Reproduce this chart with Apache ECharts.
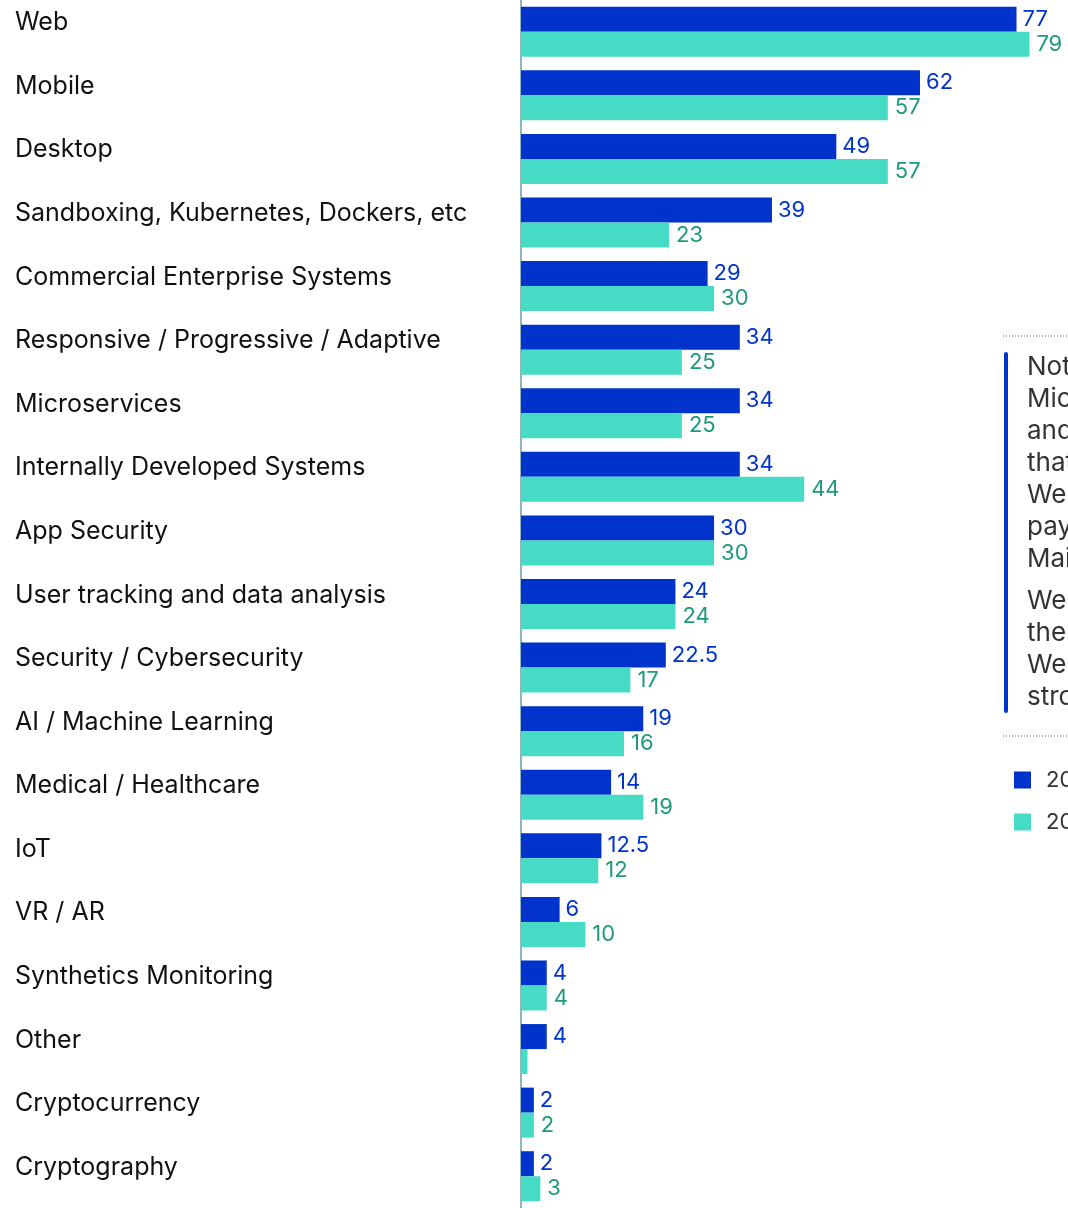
<!DOCTYPE html>
<html lang="en">
  <head>
    <meta charset="UTF-8" />
    <title>Chart</title>
    <script src="https://cdn.jsdelivr.net/npm/echarts@6/dist/echarts.min.js"></script>
    <style>
      html, body { margin: 0; padding: 0; background: #fff; }
    </style>
  </head>
  <body>
    <div id="main" style="width: 1068px; height: 1208px"></div>
    <script>
      // categories, top to bottom
      var categories = [
        "Web",
        "Mobile",
        "Desktop",
        "Sandboxing, Kubernetes, Dockers, etc",
        "Commercial Enterprise Systems",
        "Responsive / Progressive / Adaptive",
        "Microservices",
        "Internally Developed Systems",
        "App Security",
        "User tracking and data analysis",
        "Security / Cybersecurity",
        "AI / Machine Learning",
        "Medical / Healthcare",
        "IoT",
        "VR / AR",
        "Synthetics Monitoring",
        "Other",
        "Cryptocurrency",
        "Cryptography",
      ];
      var seriesNames = ["2021", "2022"];
      var blueValues = [77, 62, 49, 39, 29, 34, 34, 34, 30, 24, 22.5, 19, 14, 12.5, 6, 4, 4, 2, 2];
      var tealValues = [79, 57, 57, 23, 30, 25, 25, 44, 30, 24, 17, 16, 19, 12, 10, 4, 1, 2, 3];
      // teal "Other" bar carries no number in the picture
      var tealNoLabel = ["Other"];

      var noteLines = [
        "Note:",
        "Microservices",
        "and",
        "that",
        "Web",
        "payments",
        "Mainly",
      ];
      var noteLines2 = ["We", "the", "Web", "strongly"];

      var BLUE = "#0033cc";
      var TEAL = "#45dbc4";
      var FONT = "Inter";

      var tealData = tealValues.map(function (v, i) {
        if (tealNoLabel.indexOf(categories[i]) >= 0) {
          return { value: v, label: { show: false } };
        }
        return v;
      });

      var graphics = [];
      // dotted rules round the note
      graphics.push({
        type: "line",
        shape: { x1: 1003, y1: 336, x2: 1068, y2: 336 },
        style: { stroke: "#555", lineWidth: 1, lineDash: [1, 2] },
      });
      graphics.push({
        type: "line",
        shape: { x1: 1003, y1: 736, x2: 1068, y2: 736 },
        style: { stroke: "#555", lineWidth: 1, lineDash: [1, 2] },
      });
      graphics.push({
        type: "rect",
        shape: { x: 1004, y: 352, width: 4, height: 361, r: 2 },
        style: { fill: BLUE },
      });
      noteLines.forEach(function (t, i) {
        graphics.push({
          type: "text",
          x: 1027,
          y: 367 + i * 32,
          style: { text: t, fill: "#333", font: "26px " + FONT, verticalAlign: "middle" },
        });
      });
      noteLines2.forEach(function (t, i) {
        graphics.push({
          type: "text",
          x: 1027,
          y: 601 + i * 32,
          style: { text: t, fill: "#333", font: "26px " + FONT, verticalAlign: "middle" },
        });
      });

      var myChart = echarts.init(document.getElementById("main"));
      var option = {
        animation: false,
        textStyle: { fontFamily: FONT },
        grid: { left: 521, right: 0, top: -1, bottom: -9, containLabel: false },
        legend: {
          orient: "vertical",
          left: 1014,
          top: 769,
          padding: 0,
          itemWidth: 17,
          itemHeight: 17,
          itemGap: 20,
          icon: "rect",
          textStyle: { fontSize: 22, color: "#333", fontFamily: FONT, padding: [0, 0, 0, 10] },
          data: seriesNames,
        },
        xAxis: {
          type: "value",
          min: 0,
          max: 85,
          show: false,
        },
        yAxis: {
          type: "category",
          inverse: true,
          data: categories,
          axisLine: { show: true, lineStyle: { color: "#6a9fa5", width: 1.5 } },
          axisTick: { show: false },
          axisLabel: {
            align: "left",
            verticalAlign: "bottom",
            lineHeight: 18,
            margin: 506,
            color: "#111",
            fontSize: 25,
            fontFamily: FONT,
          },
        },
        series: [
          {
            name: seriesNames[0],
            type: "bar",
            data: blueValues,
            barWidth: 25,
            barGap: "0%",
            itemStyle: { color: BLUE },
            label: {
              show: true,
              position: "right",
              distance: 6,
              color: BLUE,
              fontSize: 22,
              fontFamily: FONT,
            },
          },
          {
            name: seriesNames[1],
            type: "bar",
            data: tealData,
            barWidth: 25,
            barGap: "0%",
            itemStyle: { color: TEAL },
            label: {
              show: true,
              position: "right",
              distance: 7,
              color: "#1f9a78",
              fontSize: 22,
              fontFamily: FONT,
            },
          },
        ],
        graphic: graphics,
      };
      myChart.setOption(option);
    </script>
  </body>
</html>
